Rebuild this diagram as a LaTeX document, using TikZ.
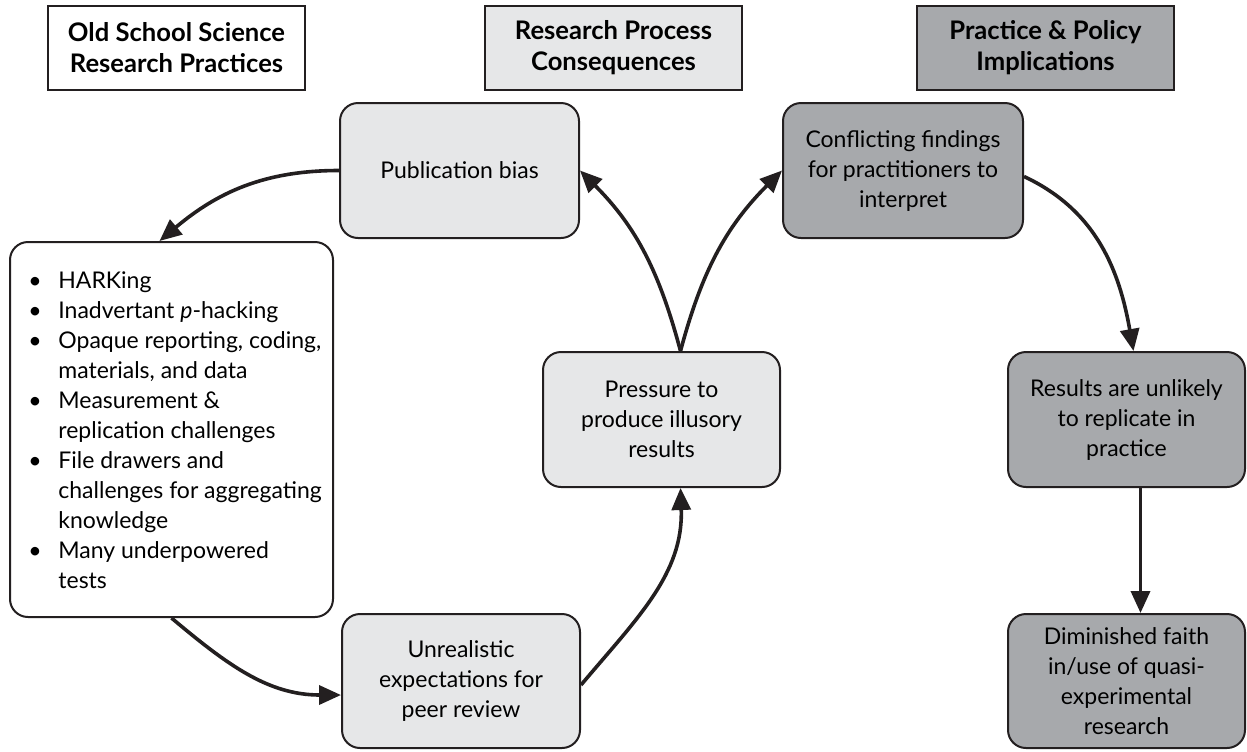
\documentclass[tikz,border=0pt]{standalone}
\usepackage{fontspec}
\setmainfont{Lato}
\usetikzlibrary{arrows.meta}
\definecolor{lightg}{HTML}{E6E7E8}
\definecolor{darkg}{HTML}{A7A9AC}
\definecolor{ink}{HTML}{231F20}
\begin{document}
\begin{tikzpicture}[x=0.5pt,y=-0.5pt,
  hdr/.style={draw=ink,line width=1.1pt,font=\fontsize{12.8}{15.5}\selectfont\bfseries,align=center,minimum width=128.5pt,minimum height=42pt,inner sep=0pt},
  rbox/.style={draw=ink,line width=1pt,rounded corners=9pt,font=\fontsize{11.5}{15}\selectfont,align=center,inner sep=0pt},
  conn/.style={draw=ink,line width=1.8pt,-{Triangle[length=11pt,width=9.5pt]}}]
\useasboundingbox (0,0) rectangle (1247,751);
\node[hdr,fill=white] (h1) at (176.5,48) {Old School Science\\Research Practices};
\node[hdr,fill=lightg] (h2) at (613.5,48) {Research Process\\Consequences};
\node[hdr,fill=darkg] (h3) at (1045.5,48) {Practice \& Policy\\Implications};

\node[rbox,fill=lightg,minimum width=119.5pt,minimum height=67.5pt] (pub) at (459.5,170.5) {Publication bias};
\node[rbox,fill=darkg,minimum width=120pt,minimum height=67.5pt] (conf) at (903,170.5) {Conflicting findings\\for practitioners to\\interpret};
\node[rbox,fill=lightg,minimum width=118.5pt,minimum height=67.5pt] (press) at (661.5,419.5) {Pressure to\\produce illusory\\results};
\node[rbox,fill=lightg,minimum width=119pt,minimum height=67pt] (unreal) at (461,681) {Unrealistic\\expectations for\\peer review};
\node[rbox,fill=darkg,minimum width=118.5pt,minimum height=67.5pt] (results) at (1126.5,419.5) {Results are unlikely\\to replicate in\\practice};
\node[rbox,fill=darkg,minimum width=118.5pt,minimum height=67pt] (dimin) at (1126.5,681) {Diminished faith\\in/use of quasi-\\experimental\\research};
\node[rbox,fill=white,minimum width=161.5pt,minimum height=187.5pt] (list) at (171.5,429.5) {};
\node[anchor=north west,inner sep=0pt,font=\fontsize{11.5}{15}\selectfont] (listtext) at (28,267) {%
\begin{tabular}{@{}p{15pt}@{}l@{}}
•& HARKing\\
•& Inadvertant \textit{p}-hacking\\
•& Opaque reporting, coding,\\
 & materials, and data\\
•& Measurement \&\\
 & replication challenges\\
•& File drawers and\\
 & challenges for aggregating\\
 & knowledge\\
•& Many underpowered\\
 & tests
\end{tabular}};

\draw[conn] (pub.west) to[out=180,in=40] ([xshift=-6pt]list.north);
\draw[conn] (list.south) to[out=-40,in=180] ([yshift=-7pt]unreal.west);
\draw[conn] ([yshift=-2pt]unreal.east) to[out=50,in=-88] ([xshift=9.5pt]press.south);
\draw[conn] ([xshift=9.5pt]press.north) to[out=105,in=-45] (pub.east);
\draw[conn] ([xshift=9.5pt]press.north) to[out=75,in=-135] (conf.west);
\draw[conn] ([yshift=-3pt]conf.east) to[out=-25,in=100] ([xshift=3.5pt]results.north);
\draw[conn] ([xshift=7pt]results.south) -- ([xshift=7pt]dimin.north);
\end{tikzpicture}
\end{document}
